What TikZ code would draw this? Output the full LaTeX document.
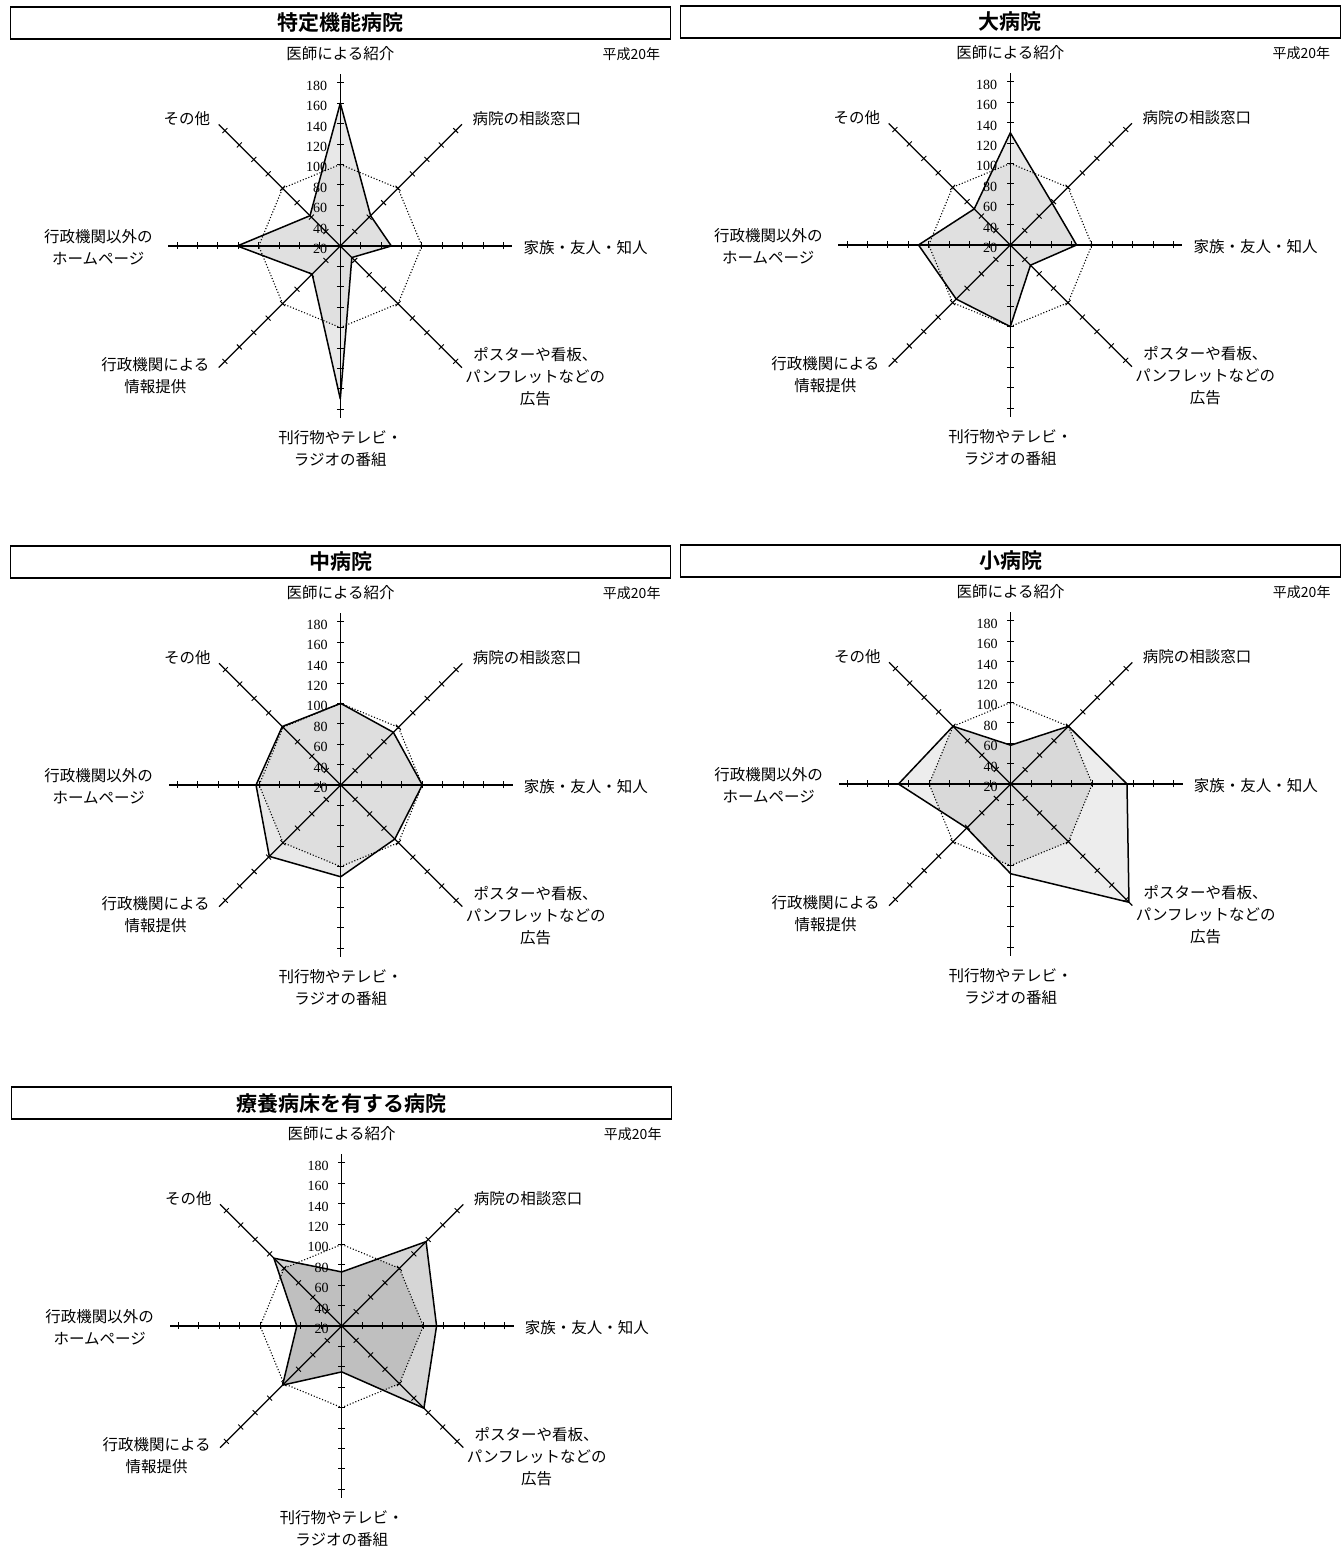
\documentclass[tikz,border=0pt]{standalone}
\usepackage{fontspec}
\setmainfont{Liberation Serif}
\newfontfamily\jpfont{Noto Sans CJK JP}[BoldFont={Noto Sans CJK JP Bold}]

\tikzset{
  radaxis/.style={line width=1.2pt},
  radtick/.style={line width=0.9pt},
  refline/.style={line width=1.1pt, dash pattern=on 1.1pt off 1.9pt},
  dataline/.style={line width=1.5pt, line join=round},
  axlabel/.style={font=\jpfont\fontsize{15.5}{22}\selectfont, align=center, inner sep=0pt},
  ticklabel/.style={font=\fontsize{14}{14}\selectfont, anchor=east, inner sep=0pt},
  yearlabel/.style={font=\jpfont\fontsize{14}{14}\selectfont, anchor=east, inner sep=0pt},
  titlebox/.style={draw, line width=1.3pt, minimum width=660pt, minimum height=32pt,
    inner sep=0pt, font=\jpfont\bfseries\fontsize{21}{21}\selectfont}
}

% #1 name, #2 centre, #3 title, #4 values (up, then clockwise), #5 fill, #6 fill inside the 100 line
\newcommand{\radarchart}[6]{%
\begin{scope}[shift={#2}]
  \foreach \k in {1,...,8} \coordinate (#1-h\k) at ({135-45*\k}:81.6);
  \foreach \v [count=\k] in {#4} \coordinate (#1-d\k) at ({135-45*\k}:{(\v-20)*1.02});
  \fill[#5] (#1-d1) \foreach \k in {2,...,8} {-- (#1-d\k)} -- cycle;
  \begin{scope}
    \clip (#1-d1) \foreach \k in {2,...,8} {-- (#1-d\k)} -- cycle;
    \fill[#6] (#1-h1) \foreach \k in {2,...,8} {-- (#1-h\k)} -- cycle;
  \end{scope}
  \foreach \v in {20,40,...,180}
    \node[ticklabel] (#1-n\v) at (-13,{(\v-20)*1.02-3}) {\v};
  \foreach \a in {0,45,...,315} {
    \draw[radaxis,rotate=\a] (0,0) -- (172,0);
    \foreach \k in {1,...,8} \draw[radtick,rotate=\a] (\k*20.4,-3.5) -- (\k*20.4,3.5);
  }
  \draw[refline] (#1-h1) \foreach \k in {2,...,8} {-- (#1-h\k)} -- cycle;
  \draw[dataline] (#1-d1) \foreach \k in {2,...,8} {-- (#1-d\k)} -- cycle;
  \node[axlabel] (#1-l1) at (0,192) {医師による紹介};
  \node[axlabel,anchor=west] (#1-l2) at (132,127) {病院の相談窓口};
  \node[axlabel,anchor=west] (#1-l3) at (183,-2) {家族・友人・知人};
  \node[axlabel] (#1-l4) at (195,-131) {ポスターや看板、\\パンフレットなどの\\広告};
  \node[axlabel] (#1-l5) at (0,-203) {刊行物やテレビ・\\ラジオの番組};
  \node[axlabel] (#1-l6) at (-185,-130) {行政機関による\\情報提供};
  \node[axlabel] (#1-l7) at (-242,-1) {行政機関以外の\\ホームページ};
  \node[axlabel,anchor=east] (#1-l8) at (-130,127) {その他};
  \node[yearlabel] (#1-yr) at (320,192) {平成20年};
  \node[titlebox] (#1-title) at (0,223) {#3};
\end{scope}}

\begin{document}
\begin{tikzpicture}[x=1pt,y=1pt]
\useasboundingbox (0,0) rectangle (1343,1549);
\radarchart{toku}{(340.3,1303)}{特定機能病院}{160,62,70,36,170,59,121,62}{gray!18}{gray!24}
\radarchart{dai}{(1010.3,1304)}{大病院}{130,78,85,48,100,95,110,70}{gray!18}{gray!24}
\radarchart{chu}{(340.7,764)}{中病院}{100,93,100,95,110,119,103,101}{gray!18}{gray!26}
\radarchart{sho}{(1010.7,765)}{小病院}{58,100,134,184,108,81,130,100}{gray!14}{gray!30}
\radarchart{ryo}{(341.7,223)}{療養病床を有する病院}{73,137,113,134,65,102,64,114}{gray!32}{gray!50}
\end{tikzpicture}
\end{document}
